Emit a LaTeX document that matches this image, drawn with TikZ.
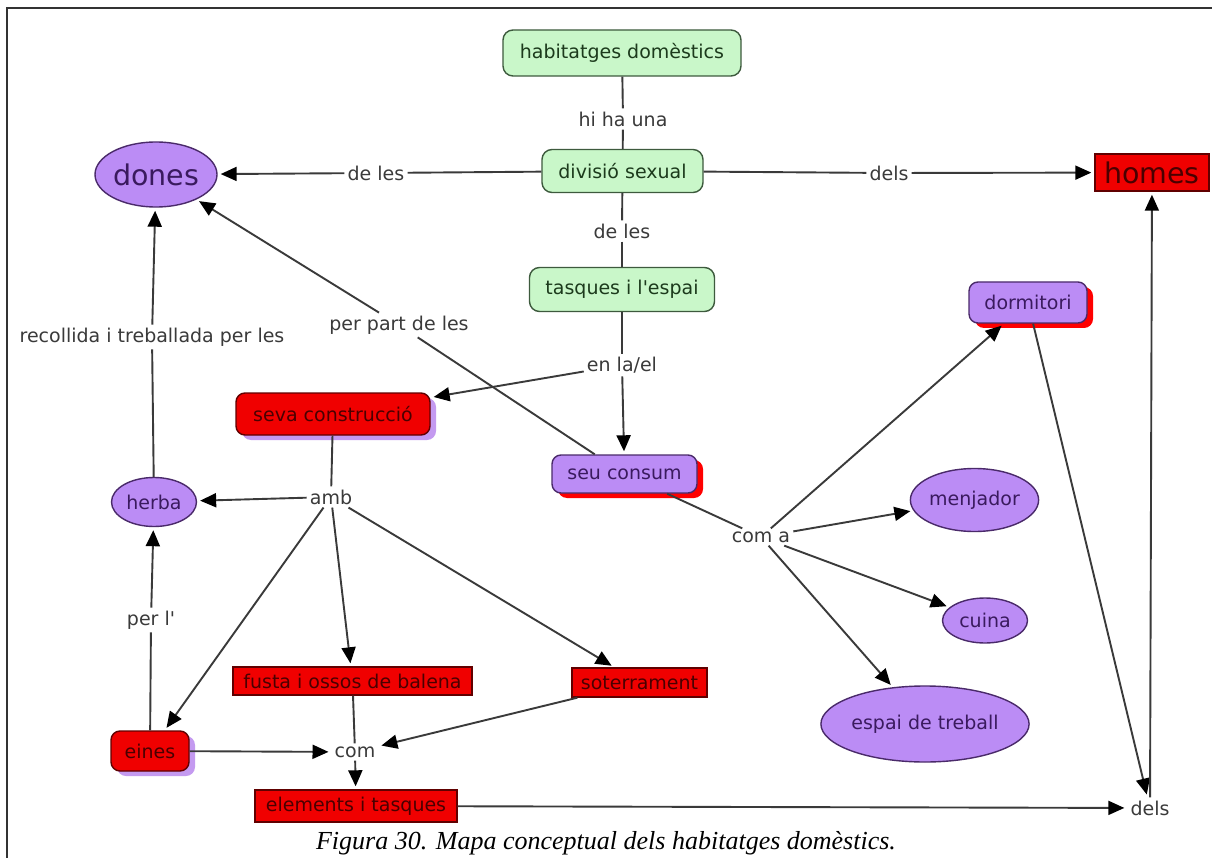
\documentclass[tikz,border=0pt]{standalone}
\usepackage{fontspec}
\newfontfamily\cmapfont{DejaVu Sans}
\newfontfamily\capfont{Liberation Serif}
\usetikzlibrary{arrows.meta,shapes.geometric,shadows}
\definecolor{gfill}{HTML}{C9F7C9}
\definecolor{gdraw}{HTML}{3D5A3D}
\definecolor{gtext}{HTML}{1C3A1C}
\definecolor{pfill}{HTML}{BB8CF5}
\definecolor{pdraw}{HTML}{4A2A6A}
\definecolor{ptext}{HTML}{3A1A5E}
\definecolor{rfill}{HTML}{F00000}
\definecolor{rdraw}{HTML}{600000}
\definecolor{rtext}{HTML}{4A0000}
\definecolor{pshadow}{HTML}{C49AF0}
\definecolor{lcol}{HTML}{3A3A3A}
\tikzset{
  base/.style={font=\cmapfont\fontsize{19}{23}\selectfont, inner sep=0pt, line width=1.4pt},
  gbox/.style={base, rectangle, rounded corners=10pt, draw=gdraw, fill=gfill, text=gtext},
  pbox/.style={base, rectangle, rounded corners=9pt, draw=pdraw, fill=pfill, text=ptext,
    drop shadow={shadow xshift=6pt, shadow yshift=-5pt, fill=red, opacity=1}},
  rrbox/.style={base, rectangle, rounded corners=9pt, draw=rdraw, fill=rfill, text=rtext,
    drop shadow={shadow xshift=6pt, shadow yshift=-5pt, fill=pshadow, opacity=1}},
  rbox/.style={base, rectangle, draw=rdraw, fill=rfill, text=rtext},
  pell/.style={base, ellipse, draw=pdraw, fill=pfill, text=ptext},
  lbl/.style={font=\cmapfont\fontsize{19}{23}\selectfont, text=lcol, inner sep=3pt},
  ln/.style={draw=lcol, line width=1.9pt},
  arr/.style={ln, -{Triangle[length=16pt,width=14pt,color=black]}, shorten >=3pt},
}
\begin{document}
\begin{tikzpicture}[x=1pt,y=-1pt]
\useasboundingbox (0,0) rectangle (1212,858);
\fill[white] (0,0) rectangle (1212,858);
\draw[line width=2.5pt, color=black!80] (7,858) -- (7,8) -- (1212,8);

% concept nodes
\node[gbox, minimum width=238pt, minimum height=46pt] (hab) at (622,53) {habitatges domèstics};
\node[gbox, minimum width=161pt, minimum height=43pt] (div) at (622.5,171) {divisió sexual};
\node[gbox, minimum width=185pt, minimum height=44pt] (tas) at (622,289.5) {tasques i l'espai};
\node[pell, minimum width=122pt, minimum height=65pt, font=\cmapfont\fontsize{28.5}{32}\selectfont] (dones) at (156,174.5) {dones};
\node[rbox, minimum width=114pt, minimum height=37pt, font=\cmapfont\fontsize{28.5}{32}\selectfont] (homes) at (1152,172.5) {homes};
\node[rrbox, minimum width=194pt, minimum height=42pt] (seva) at (333,414) {seva construcció};
\node[pbox, minimum width=145pt, minimum height=38pt] (seu) at (624.5,474) {seu consum};
\node[pbox, minimum width=118pt, minimum height=41pt] (dorm) at (1028,302.5) {dormitori};
\node[pell, minimum width=85pt, minimum height=49pt] (herba) at (154,502) {herba};
\node[pell, minimum width=127pt, minimum height=63pt] (men) at (974.5,500) {menjador};
\node[pell, minimum width=85pt, minimum height=45pt] (cuina) at (985,620.5) {cuina};
\node[pell, minimum width=184pt, minimum height=76pt] (espai) at (925,724) {espai de treball};
\node[rbox, minimum width=239pt, minimum height=28pt] (fusta) at (352.5,681) {fusta i ossos de balena};
\node[rbox, minimum width=135pt, minimum height=29pt] (soter) at (639.5,682.5) {soterrament};
\node[rrbox, minimum width=78pt, minimum height=40pt] (eines) at (150,751) {eines};
\node[rbox, minimum width=202pt, minimum height=32pt] (elem) at (356,806) {elements i tasques};

% linking phrases
\node[lbl] (lhi) at (623,119) {hi ha una};
\node[lbl] (lde1) at (622,231) {de les};
\node[lbl] (lde2) at (376,173) {de les};
\node[lbl] (ldels1) at (889,173) {dels};
\node[lbl] (lper) at (399,325) {per part de les};
\node[lbl] (lrec) at (152,337) {recollida i treballada per les};
\node[lbl] (lenla) at (622,365) {en la/el};
\node[lbl] (amb) at (331,497) {amb};
\node[lbl] (lcoma) at (761,537) {com a};
\node[lbl] (lperl) at (151,620) {per l'};
\node[lbl] (com) at (355,752) {com};
\node[lbl] (ldels2) at (1150,808) {dels};

% connectors
\draw[ln] (hab) -- (lhi);
\draw[ln] (lhi) -- (div);
\draw[ln] (div) -- (lde2);
\draw[arr] (lde2) -- (dones);
\draw[ln] (div) -- (ldels1);
\draw[arr] (ldels1) -- (homes);
\draw[ln] (div) -- (lde1);
\draw[ln] (lde1) -- (tas);
\draw[ln] (tas) -- (lenla);
\draw[arr] (lenla) -- (seva);
\draw[arr] (lenla) -- (seu);
\draw[ln] (seu) -- (lper);
\draw[arr] (lper) -- (dones);
\draw[ln] (seva) -- (amb);
\draw[arr] (amb) -- (herba);
\draw[arr] (amb) -- (eines);
\draw[arr] (amb) -- (fusta);
\draw[arr] (amb) -- (soter);
\draw[ln] (herba) -- (lrec);
\draw[arr] (lrec) -- (dones);
\draw[ln] (eines) -- (lperl);
\draw[arr] (lperl) -- (herba);
\draw[arr] (eines) -- (com);
\draw[ln] (fusta) -- (com);
\draw[arr] (soter) -- (com);
\draw[arr] (com) -- (elem);
\draw[arr] (elem) -- (ldels2);
\draw[ln] (seu) -- (lcoma);
\draw[arr] (lcoma) -- (dorm);
\draw[arr] (lcoma) -- (men);
\draw[arr] (lcoma) -- (cuina);
\draw[arr] (lcoma) -- (espai);
\draw[arr] (dorm) -- (ldels2);
\draw[arr] (ldels2) -- (homes);

% caption
\node[font=\capfont\itshape\fontsize{26}{30}\selectfont, anchor=base, inner sep=0pt] (cap) at (606,849) {Figura 30. Mapa conceptual dels habitatges domèstics.};
\end{tikzpicture}
\end{document}
